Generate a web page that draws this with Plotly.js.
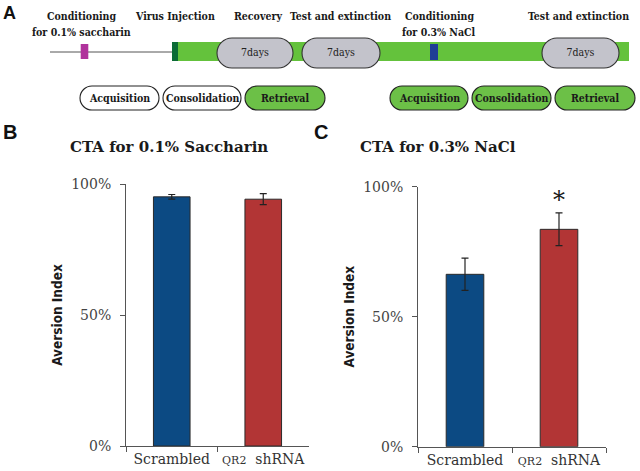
<!DOCTYPE html>
<html>
<head>
<meta charset="utf-8">
<script src="https://cdn.plot.ly/plotly-3.0.1.min.js"></script>
<style>html,body{margin:0;padding:0;background:#fff;}#chart{width:640px;height:471px;}</style>
</head>
<body>
<div id="chart"></div>
<script>
// ---------------- data ----------------
const categories = ['Scrambled', 'QR2 shRNA'];
const categoryTickText = ['Scrambled', '<span style="font-size:11px">QR2</span>\u00a0\u00a0shRNA'];
const saccharinAversion = [0.951, 0.942];
const saccharinSEM = [0.009, 0.021];
const naclAversion = [0.663, 0.836];
const naclSEM = [0.062, 0.063];
const naclSignificance = ['', '*'];
const yTickValues = [0, 0.5, 1];
const panelTitles = ['CTA for 0.1% Saccharin', 'CTA for 0.3% NaCl'];
const yAxisTitle = 'Aversion Index';
const timelineTopLabels = [
  ['Conditioning', 'for 0.1% saccharin'],
  ['Virus Injection'],
  ['Recovery'],
  ['Test and extinction'],
  ['Conditioning', 'for 0.3% NaCl'],
  ['Test and extinction']
];
const durationLabels = ['7days', '7days', '7days'];
const phaseLabels = ['Acquisition', 'Consolidation', 'Retrieval', 'Acquisition', 'Consolidation', 'Retrieval'];
const phaseActive = [false, false, true, true, true, true];

// ---------------- diagram geometry (pixel units of panel A) ----------------
const W = 640, H = 471;
const geo = {
  topX: [81, 175, 257.5, 340, 439, 578],
  topLineY: [16, 32],
  preLine: [50, 172, 52],
  greenBar: [172, 629, 42, 61],
  virusMark: [172, 178, 42, 61],
  sacMark: [80.7, 88.3, 44, 59],
  naclMark: [430, 438, 44, 60],
  durationX: [[217, 293], [302, 380], [542, 619]],
  durationY: [38, 68],
  phaseX: [[80, 159], [163, 241], [245, 325], [390, 468], [472, 551], [555, 635]],
  phaseY: [86, 110]
};

const serif = 'DejaVu Serif';
const serifC = 'DejaVu Serif Condensed, DejaVu Serif';
const green = '#64c23c';

function pill(x0, x1, y0, y1) {
  const r = (y1 - y0) / 2, k = 0.5523 * r, ym = (y0 + y1) / 2;
  return `M${x0 + r},${y0} L${x1 - r},${y0} C${x1 - r + k},${y0} ${x1},${ym - k} ${x1},${ym} ` +
         `C${x1},${ym + k} ${x1 - r + k},${y1} ${x1 - r},${y1} L${x0 + r},${y1} ` +
         `C${x0 + r - k},${y1} ${x0},${ym + k} ${x0},${ym} C${x0},${ym - k} ${x0 + r - k},${y0} ${x0 + r},${y0} Z`;
}

const shapes = [];
const A = {xref: 'x3', yref: 'y3', layer: 'below'};
shapes.push(Object.assign({type: 'line', x0: geo.preLine[0], x1: geo.preLine[1], y0: geo.preLine[2], y1: geo.preLine[2], line: {color: '#555', width: 1}}, A));
shapes.push(Object.assign({type: 'rect', x0: geo.greenBar[0], x1: geo.greenBar[1], y0: geo.greenBar[2], y1: geo.greenBar[3], fillcolor: green, line: {width: 0}}, A));
shapes.push(Object.assign({type: 'rect', x0: geo.virusMark[0], x1: geo.virusMark[1], y0: geo.virusMark[2], y1: geo.virusMark[3], fillcolor: '#0b6b36', line: {width: 0}}, A));
shapes.push(Object.assign({type: 'rect', x0: geo.sacMark[0], x1: geo.sacMark[1], y0: geo.sacMark[2], y1: geo.sacMark[3], fillcolor: '#b0339c', line: {width: 0}}, A));
shapes.push(Object.assign({type: 'rect', x0: geo.naclMark[0], x1: geo.naclMark[1], y0: geo.naclMark[2], y1: geo.naclMark[3], fillcolor: '#1f3e96', line: {width: 0}}, A));
geo.durationX.forEach(([x0, x1]) => {
  shapes.push(Object.assign({type: 'path', path: pill(x0, x1, geo.durationY[0], geo.durationY[1]), fillcolor: '#c3c3cb', line: {color: '#333', width: 1.1}}, A));
});
geo.phaseX.forEach(([x0, x1], i) => {
  shapes.push(Object.assign({type: 'path', path: pill(x0, x1, geo.phaseY[0], geo.phaseY[1]), fillcolor: phaseActive[i] ? '#6cc047' : '#ffffff', line: {color: '#222', width: 1.1}}, A));
});

const annotations = [];
const AR = {xref: 'x3', yref: 'y3', xanchor: 'center', yanchor: 'middle', showarrow: false};
timelineTopLabels.forEach((lines, i) => {
  lines.forEach((t, j) => {
    annotations.push(Object.assign({x: geo.topX[i], y: geo.topLineY[j], text: t,
      font: {family: serifC, size: 10.5, color: '#1a1a1a', weight: 'bold'}}, AR));
  });
});
geo.phaseX.forEach(([x0, x1], i) => {
  annotations.push(Object.assign({x: (x0 + x1) / 2, y: (geo.phaseY[0] + geo.phaseY[1]) / 2, text: phaseLabels[i],
    font: {family: serifC, size: 10.5, color: '#1a1a1a', weight: 'bold'}}, AR));
});
// panel titles
annotations.push({xref: 'paper', yref: 'paper', x: 168.5 / W, y: 1 - 147 / H, xanchor: 'center', yanchor: 'middle',
  text: panelTitles[0], showarrow: false, font: {family: serif, size: 15, color: '#1a1a1a', weight: 'bold'}});
annotations.push({xref: 'paper', yref: 'paper', x: 437.5 / W, y: 1 - 147 / H, xanchor: 'center', yanchor: 'middle',
  text: panelTitles[1], showarrow: false, font: {family: serif, size: 15, color: '#1a1a1a', weight: 'bold'}});
// panel letters
[['A', 9, 13, 18], ['B', 10, 132, 20], ['C', 321, 132, 20]].forEach(([t, x, y, s]) => {
  annotations.push({xref: 'paper', yref: 'paper', x: x / W, y: 1 - y / H, xanchor: 'center', yanchor: 'middle',
    text: t, showarrow: false, font: {family: 'Liberation Sans, Arial', size: s, color: '#111', weight: 'bold'}});
});
// significance marker
naclSignificance.forEach((s, i) => {
  if (!s) return;
  annotations.push({xref: 'x2', yref: 'y2', x: categories[i], y: naclAversion[i] + naclSEM[i], yshift: 13,
    xanchor: 'center', yanchor: 'middle',
    text: s, showarrow: false, font: {family: serif, size: 24, color: '#1a1a1a'}});
});

const traces = [
  {type: 'bar', x: categories, y: saccharinAversion, xaxis: 'x', yaxis: 'y', width: 0.4,
   marker: {color: ['#0c4a83', '#b23535'], line: {color: '#2a2a2a', width: 1}},
   error_y: {type: 'data', array: saccharinSEM, visible: true, color: '#222', thickness: 1.2, width: 3.5},
   hoverinfo: 'skip'},
  {type: 'bar', x: categories, y: naclAversion, xaxis: 'x2', yaxis: 'y2', width: 0.4,
   marker: {color: ['#0c4a83', '#b23535'], line: {color: '#2a2a2a', width: 1}},
   error_y: {type: 'data', array: naclSEM, visible: true, color: '#222', thickness: 1.2, width: 3.5},
   hoverinfo: 'skip'},
  {type: 'scatter', mode: 'text', xaxis: 'x3', yaxis: 'y3',
   x: geo.durationX.map(([a, b]) => (a + b) / 2), y: geo.durationX.map(() => (geo.durationY[0] + geo.durationY[1]) / 2),
   text: durationLabels, textposition: 'middle center',
   textfont: {family: serifC, size: 10.5, color: '#222'}, hoverinfo: 'skip'}
];

function xAxis(d0, d1, anchor) {
  return {domain: [d0 / W, d1 / W], anchor: anchor, type: 'category', categoryorder: 'array', categoryarray: categories,
    tickson: 'boundaries', ticks: 'outside', ticklen: 5, tickcolor: '#555', showline: true, linecolor: '#555', linewidth: 1,
    showgrid: false, zeroline: false, tickvals: categories, ticktext: categoryTickText,
    tickfont: {family: serif, size: 14, color: '#333'}, fixedrange: true};
}
function yAxis(top, bottom, anchor) {
  return {domain: [1 - bottom / H, 1 - top / H], anchor: anchor, range: [0, 1], tickvals: yTickValues, tickformat: '.0%',
    ticks: 'outside', ticklen: 5, tickcolor: '#555', showline: true, linecolor: '#555', linewidth: 1,
    showgrid: false, zeroline: false, ticklabelstandoff: 6,
    tickfont: {family: serif, size: 14, color: '#444'},
    title: {text: yAxisTitle, standoff: 5, font: {family: 'Liberation Sans Narrow, DejaVu Sans Condensed', size: 13.5, color: '#1a1a1a', weight: 'bold'}},
    fixedrange: true};
}

const layout = {
  width: W, height: H, margin: {l: 0, r: 0, t: 0, b: 0},
  paper_bgcolor: '#fff', plot_bgcolor: 'rgba(0,0,0,0)', showlegend: false,
  xaxis: xAxis(126, 309, 'y'), yaxis: yAxis(184, 446, 'x'),
  xaxis2: xAxis(418, 606, 'y2'), yaxis2: yAxis(186.7, 446.7, 'x2'),
  xaxis3: {domain: [0, 1], range: [0, W], visible: false, anchor: 'y3', fixedrange: true},
  yaxis3: {domain: [0, 1], range: [H, 0], visible: false, anchor: 'x3', fixedrange: true},
  shapes: shapes, annotations: annotations
};

Plotly.newPlot('chart', traces, layout, {displayModeBar: false, staticPlot: true});
</script>
</body>
</html>
